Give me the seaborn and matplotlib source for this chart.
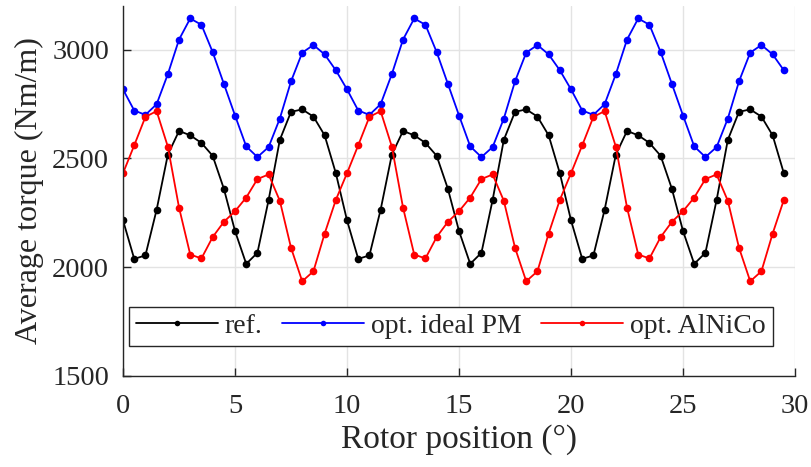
import numpy as np
import pandas as pd
import seaborn as sns
import matplotlib.pyplot as plt

# rotor position in degrees, 0.5 deg steps
position = np.arange(0, 30, 0.5)

ref = [2215, 2038, 2054, 2264, 2517, 2626, 2606, 2571, 2512, 2361,
       2166, 2015, 2066, 2309, 2585, 2714, 2725, 2692, 2606, 2432,
       2215, 2038, 2054, 2264, 2517, 2626, 2606, 2571, 2512, 2361,
       2166, 2015, 2066, 2309, 2585, 2714, 2725, 2692, 2606, 2432,
       2215, 2038, 2054, 2264, 2517, 2626, 2606, 2571, 2512, 2361,
       2166, 2015, 2066, 2309, 2585, 2714, 2725, 2692, 2606, 2432]

ideal_pm = [2817, 2720, 2700, 2749, 2887, 3046, 3143, 3114, 2989, 2843,
            2697, 2555, 2506, 2552, 2683, 2854, 2986, 3021, 2978, 2905,
            2817, 2720, 2700, 2749, 2887, 3046, 3143, 3114, 2989, 2843,
            2697, 2555, 2506, 2552, 2683, 2854, 2986, 3021, 2978, 2905,
            2817, 2720, 2700, 2749, 2887, 3046, 3143, 3114, 2989, 2843,
            2697, 2555, 2506, 2552, 2683, 2854, 2986, 3021, 2978, 2905]

alnico = [2432, 2560, 2691, 2717, 2554, 2274, 2058, 2040, 2138, 2208,
          2257, 2320, 2405, 2426, 2305, 2089, 1935, 1981, 2154, 2309,
          2432, 2560, 2691, 2717, 2554, 2274, 2058, 2040, 2138, 2208,
          2257, 2320, 2405, 2426, 2305, 2089, 1935, 1981, 2154, 2309,
          2432, 2560, 2691, 2717, 2554, 2274, 2058, 2040, 2138, 2208,
          2257, 2320, 2405, 2426, 2305, 2089, 1935, 1981, 2154, 2309]

series = {'ref.': (ref, 'black'),
          'opt. ideal PM': (ideal_pm, 'blue'),
          'opt. AlNiCo': (alnico, 'red')}

dark = '#262626'

sns.set_style('ticks')
plt.rcParams['font.family'] = ['Liberation Serif', 'DejaVu Serif']

fig = plt.figure(figsize=(8.11, 4.67), dpi=100)
ax = fig.add_axes([0.1517, 0.195, 0.8286, 0.792])

for name, (vals, col) in series.items():
    sns.lineplot(x=position, y=vals, ax=ax, color=col, marker='o',
                 markersize=5.5, markeredgewidth=0, linewidth=1.3, label=name)

ax.set_xlim(0, 30)
ax.set_ylim(1500, 3200)
ax.set_xticks(range(0, 31, 5))
ax.set_yticks([1500, 2000, 2500, 3000])
ax.grid(True, color='#e3e3e3', linewidth=1)
ax.set_axisbelow(True)
ax.tick_params(direction='in', length=6, width=1, labelsize=20.5,
               colors=dark)
ax.tick_params(axis='x', pad=13)
ax.tick_params(axis='y', pad=10)
for s in ['top', 'right']:
    ax.spines[s].set_visible(False)
for s in ['left', 'bottom']:
    ax.spines[s].set_color(dark)
    ax.spines[s].set_linewidth(1)

ax.set_xlabel('Rotor position (°)', fontsize=24, labelpad=4, color=dark)
ax.set_ylabel('Average torque (Nm/m)', fontsize=23, labelpad=6, color=dark)

leg = ax.legend(loc='lower left', bbox_to_anchor=(0.009, 0.081), ncol=3,
                fontsize=20, frameon=True, fancybox=False, handlelength=2.95,
                borderpad=0.25, columnspacing=0.7, handletextpad=0.25,
                borderaxespad=0, framealpha=1)
leg.get_frame().set_edgecolor(dark)
leg.get_frame().set_linewidth(1)
for h in leg.legend_handles:
    h.set_markersize(4)
for t in leg.get_texts():
    t.set_color(dark)

fig.savefig('out.png', dpi=100)
